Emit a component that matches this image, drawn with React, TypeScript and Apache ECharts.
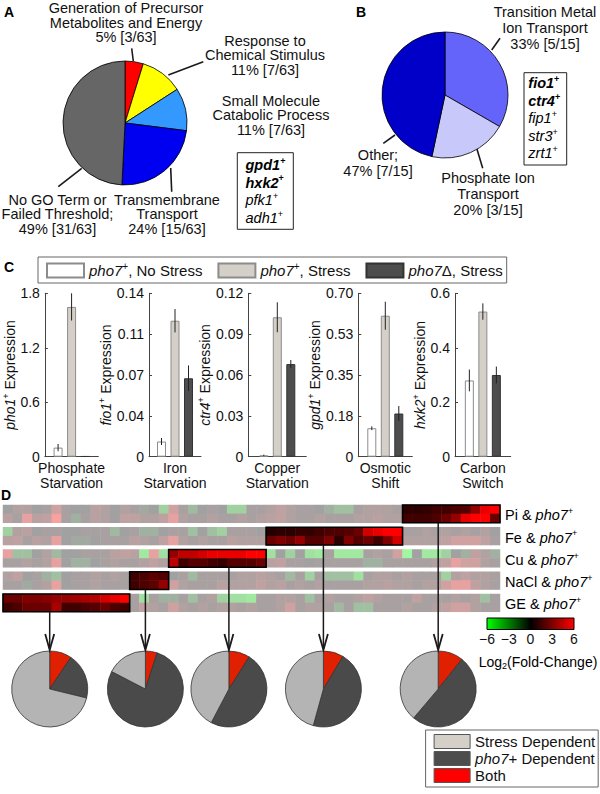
import React, { useEffect, useRef } from "react";
import * as echarts from "echarts";

const FONT = "'Liberation Sans', Arial, Helvetica, sans-serif";
const INK = "#111111";

// ---------------- Panel A : GO categories ----------------
const goTerms = [
  "Generation of Precursor\nMetabolites and Energy",
  "Response to\nChemical Stimulus",
  "Small Molecule\nCatabolic Process",
  "Transmembrane\nTransport",
  "No GO Term or\nFailed Threshold;",
];
const goCounts = [3, 7, 7, 15, 31];
const goColors = ["#ff0000", "#ffff00", "#3399ff", "#0000f0", "#666666"];
const goGenes = ["gpd1", "hxk2", "pfk1", "adh1"];
const goGenesBold = [true, true, false, false];

// ---------------- Panel B : ion transport ----------------
const ionTerms = ["Transition Metal\nIon Transport", "Phosphate Ion\nTransport", "Other;"];
const ionCounts = [5, 3, 7];
const ionColors = ["#6464fa", "#c8c8fa", "#0000c8"];
const ionGenes = ["fio1", "ctr4", "fip1", "str3", "zrt1"];
const ionGenesBold = [true, true, false, false, false];

// ---------------- Panel C : qPCR bars ----------------
const stressTypes = ["Phosphate\nStarvation", "Iron\nStarvation", "Copper\nStarvation", "Osmotic\nShift", "Carbon\nSwitch"];
const reporterGenes = ["pho1", "fio1", "ctr4", "gpd1", "hxk2"];
const barSeriesNames = ["pho7+, No Stress", "pho7+, Stress", "pho7Δ, Stress"];
const noStressMean = [0.1, 0.013, 0.001, 0.122, 0.28];
const noStressErr = [0.04, 0.003, 0.0005, 0.008, 0.04];
const stressMean = [1.65, 0.1165, 0.1024, 0.604, 0.533];
const stressErr = [0.15, 0.01, 0.011, 0.06, 0.03];
const deltaMean = [0.005, 0.0672, 0.068, 0.185, 0.3];
const deltaErr = [0.003, 0.011, 0.003, 0.032, 0.031];
const yMax = [1.8, 0.14, 0.12, 0.7, 0.6];
const yInterval = [0.6, 0.035, 0.03, 0.175, 0.2];
const yTickLabels = [
  ["0", "0.6", "1.2", "1.8"],
  ["0", "0.04", "0.07", "0.11", "0.14"],
  ["0", "0.03", "0.06", "0.09", "0.12"],
  ["0", "0.18", "0.35", "0.53", "0.70"],
  ["0", "0.2", "0.4", "0.6"],
];

// ---------------- Panel D : heatmap ----------------
const heatConditions = ["Pi", "Fe", "Cu", "NaCl", "GE"];
const heatPiTop = [0, 1, 1, 0, 0.5, 3, 0.5, 0, 0, 1.5, 1, 0, 1, 0.5, -0.5, 0, -3, 3, 0.5, -1.5, 0, 0.5, 0, -3, -3, 0.5, 0.5, 1, 2, 1, 0.5, 0.5, 0, -1, -2, -2, 0.5, 1, 1, 1, 0.5, 1, 1, 1.2, 1.5, 1.5, 1.8, 2, 3.5, 5.5, 6];
const heatPiBottom = [1.5, 0.5, 4.5, 1.5, 2, 5.5, 0.5, -1, 0.5, 1.5, 1, 0, 2, 2, 1, 1, 2, 4.5, 1, 0.5, 0.5, 1, 0.5, 0.5, 1, 0.5, 1, 1.5, 2, 1, 0.5, 0.5, 1, 0.5, 0.5, 0.5, 1, 1, 1.5, 1, 1, 1.5, 1.5, 1.5, 1.8, 2.5, 3.5, 5.5, 6, 6, 2.5];
const heatFeTop = [-3, 1, 1.5, 0, 0.5, 0.5, 0, 0, 0.5, 0.5, 0.5, -1.5, 0, 0.5, -1, -1, 0, 0.5, 0.5, -2, 0, -2, -3, 0.5, 0.5, 0.5, 0, 0.8, 1, 1, 1.2, 1.2, 1.5, 1.8, 1.8, 2, 2.5, 5, 5.5, 6, 6, 0.5, 0.5, 1, 0.5, 1, 0.5, 1, 0.5, 1, 0];
const heatFeBottom = [1.5, 2, 0.5, 1.5, 1, 4.5, 0, -0.5, -0.5, 0, 0.5, 0.5, 0.5, 1.5, 1, 0.5, 2, 4.5, 1, 0.5, 1, 0.5, 0.5, 1.5, 1, 1, 1, 2.5, 3, 2.5, 3.5, 2, 2, 3, 1, 3, 2, 2.5, 1.5, 3, 5, 1, 1, 1, 1, 2, 3, 3, 3, 2, 0.5];
const heatCuTop = [4.5, -2, -2, 0, 1, -1.5, 0, 0, 0.5, 0.5, 0.5, 1.5, 2, 1.5, -4.5, 4.5, -4, 3.5, 4.5, 4.5, 5, 5.5, 5.5, 5.5, 5.5, 6, 6, -4, 0, -3, 0, -4, -4.5, 0.5, -4.5, -4.5, -4.5, 0.5, 1, 0.5, 3, -5.5, 0, -4.5, -4.5, -3, 0, -1, 2, 1, -1];
const heatCuBottom = [0.5, 0.5, 1, 0.5, 1, 4.5, 0, -1, -1, 0, 0.5, 1, 0.5, 0.5, 1, 2, 1, 4.5, 1.5, 2, 2, 1.5, 1.2, 2, 2, 2, 2.5, 1.5, 2, 0.5, 0.5, 0, 0.5, 0.5, 0.5, 0.5, 0.5, -1, -1, 0.5, 0.5, 0.5, 0.5, 0.5, 1, 2, 4.5, 3, 3, 1, 0.5];
const heatNaClTop = [1, 2, 0, 0.5, -1, -2, 0, 0.5, 0.5, 1, 0.5, 1, 0.5, 1.5, 1.8, 2.2, 2, 0, 0.5, -1.5, 0.5, 0.5, 0.5, 0.5, 1, 1, 1.5, 1, 0.5, -1.5, 0.5, -3, 0.5, -2, -2, -2, -4, 0.5, 1, 1, 0.5, 1, 0.5, 0.5, 0.5, -3, 1, 2, 1, 1, 0.5];
const heatNaClBottom = [0.5, 0.5, -0.5, 0.5, 1, 4.5, 0, 0.5, 0.5, 1, 0.5, 0.5, 0.5, 1.5, 1.8, 2.2, 3.5, 3, 1, 0.5, 0.5, 0.5, 1.5, 1, 1, 1, 2, 1, 1.5, 0.5, 1, 0.5, 1, 0.5, 0.5, 0.5, 0.5, 1, 1, 1.5, 1, 1, 0.5, 1, 1, 3, 4.5, 4.5, 2, 1, 0.5];
const heatGETop = [2.5, 2.5, 3, 3, 3.2, 3.5, 3.5, 3.8, 4, 4.2, 5, 5.5, 6, 0.5, -4, 0.5, -1, -1, 0.5, -2, 0.5, 1, -3, -4, -4, -4.5, 0.5, 0.5, 1, 1, 0.5, -2, 0.5, 1, 0.5, 0.5, 1, 2, 1, 0.5, 0.5, 0.5, 2, 0.5, 0.5, 0.5, 1, 0.5, 1, -2, 0.5];
const heatGEBottom = [1.5, 1.8, 2.5, 2.5, 2.5, 4, 1.5, 1.5, 1.8, 2, 2.5, 1.8, 1.5, 0.5, 2, 1, 0.5, 3, 1, 0.5, 1, 0.5, 1, 1, 0.5, 1, 0.5, 0.5, 1, 3, 0.5, 1, 1, 0.5, -1.5, 0.5, -2, -2, 0.5, 0.5, 0.5, 1, 0.5, 0.5, 1, 2, 3, 3, 1, 0.5, 0.5];
const heatBoxStart = [41, 27, 17, 13, 0];
const heatBoxEnd = [50, 40, 26, 16, 12];
const colorbarTicks = [-6, -3, 0, 3, 6];

// ---------------- Panel D : overlap pies ----------------
const pieConditionOrder = ["GE", "NaCl", "Cu", "Fe", "Pi"];
const overlapNames = ["Both", "pho7+ Dependent", "Stress Dependent"];
const overlapBoth = [9.4, 5, 9, 8.6, 10.7];
const overlapPho7 = [19.4, 77.6, 48.7, 45.7, 50.5];
const overlapStress = [71.2, 17.4, 42.3, 45.7, 38.8];

// ---------------- layout / style (not data) ----------------
const barLeft = [43.3, 149, 248.3, 358.3, 455];
const barWidthPx = [55, 52, 58, 54, 55.7];
const barNameGap = [20, 34, 25, 32, 22];
const barTop = 293.3;
const barH = 163.4;
const barFill = ["#ffffff", "#d4d0c8", "#4d4d4d"];
const barBorder = ["#8c8c8c", "#8c8c8c", "#333333"];
const heatTop = [505, 527.25, 549.5, 571.75, 594];
const heatH = 17.8;
const pieX = [49.7, 145.4, 228.9, 323.4, 438.2];
const pieY = 689;
const overlapColors = ["#e02000", "#4a4a4a", "#b4b4b4"];
const overlapLegendColors = ["#ff0000", "#4d4d4d", "#d4d0c8"];

function rich(size: number) {
  const lh = size + 3;
  return {
    n: { fontSize: size, fontFamily: FONT, color: INK, lineHeight: lh },
    i: { fontSize: size, fontFamily: FONT, color: INK, fontStyle: "italic", lineHeight: lh },
    bi: { fontSize: size, fontFamily: FONT, color: INK, fontStyle: "italic", fontWeight: "bold", lineHeight: lh },
    s: { fontSize: Math.round(size * 0.64), fontFamily: FONT, color: INK, lineHeight: 8, verticalAlign: "top" },
    sb: { fontSize: Math.round(size * 0.64), fontFamily: FONT, color: INK, fontWeight: "bold", lineHeight: 8, verticalAlign: "top" },
    sub: { fontSize: Math.round(size * 0.64), fontFamily: FONT, color: INK, lineHeight: 8, verticalAlign: "bottom" },
  };
}

function richName(name: string): string {
  if (name.startsWith("pho7+,")) return `{i|pho7}{s|+}{n|${name.slice(5)}}`;
  if (name.startsWith("pho7+ ")) return `{i|pho7}{n|${name.slice(4)}}`;
  if (name.startsWith("pho7Δ")) return `{i|pho7}{n|${name.slice(4)}}`;
  return `{n|${name}}`;
}

function pct(v: number, total: number) {
  return Math.round((v / total) * 100);
}

function buildOption(): any {
  const grid: any[] = [];
  const xAxis: any[] = [];
  const yAxis: any[] = [];
  const series: any[] = [];
  const elements: any[] = [];

  // ---------- Panel A pie ----------
  const goTotal = goCounts.reduce((a, b) => a + b, 0);
  series.push({
    type: "pie",
    center: [125, 123],
    radius: 62,
    startAngle: 90,
    clockwise: true,
    silent: true,
    label: { show: false },
    labelLine: { show: false },
    itemStyle: { borderColor: "#000", borderWidth: 0.8 },
    data: goTerms.map((t, k) => ({ name: t, value: goCounts[k], itemStyle: { color: goColors[k] } })),
  });
  const goLabelPos = [[126, 22.5], [265, 55], [271, 115], [167, 214], [57.5, 214]];
  goTerms.forEach((t, k) => {
    elements.push({
      type: "text",
      x: goLabelPos[k][0],
      y: goLabelPos[k][1],
      style: {
        text: `${t}\n${pct(goCounts[k], goTotal)}% [${goCounts[k]}/${goTotal}]`,
        font: `14.5px ${FONT}`,
        fill: INK,
        lineHeight: 14.5,
        align: "center",
        verticalAlign: "middle",
        textAlign: "center",
        textVerticalAlign: "middle",
      },
    });
  });
  const goLeaders = [[131.7, 48.3, 133.3, 61], [168.3, 75, 203.3, 61.7], [170.7, 168, 171.7, 191.7], [58.3, 186.7, 81.7, 168.3]];
  goLeaders.forEach((l) =>
    elements.push({ type: "line", shape: { x1: l[0], y1: l[1], x2: l[2], y2: l[3] }, style: { stroke: "#1a1a1a", lineWidth: 1.6 } })
  );
  elements.push({ type: "rect", shape: { x: 237.3, y: 152.7, width: 56, height: 76.6 }, style: { fill: "#fff", stroke: "#222", lineWidth: 1 } });
  goGenes.forEach((g, k) => {
    elements.push({
      type: "text",
      x: 245.5,
      y: 165 + k * 17.7,
      style: {
        text: goGenesBold[k] ? `{bi|${g}}{sb|+}` : `{i|${g}}{s|+}`,
        rich: rich(14.5),
        align: "left",
        verticalAlign: "middle",
        textAlign: "left",
        textVerticalAlign: "middle",
      },
    });
  });

  // ---------- Panel B pie ----------
  const ionTotal = ionCounts.reduce((a, b) => a + b, 0);
  series.push({
    type: "pie",
    center: [445, 95],
    radius: 63,
    startAngle: 90,
    clockwise: true,
    silent: true,
    label: { show: false },
    labelLine: { show: false },
    itemStyle: { borderColor: "#000", borderWidth: 0.8 },
    data: ionTerms.map((t, k) => ({ name: t, value: ionCounts[k], itemStyle: { color: ionColors[k] } })),
  });
  const ionLabelPos = [[545, 27.5], [488, 193.5], [378, 163.3]];
  ionTerms.forEach((t, k) => {
    elements.push({
      type: "text",
      x: ionLabelPos[k][0],
      y: ionLabelPos[k][1],
      style: {
        text: `${t}\n${pct(ionCounts[k], ionTotal)}% [${ionCounts[k]}/${ionTotal}]`,
        font: `14.5px ${FONT}`,
        fill: INK,
        lineHeight: 16,
        align: "center",
        verticalAlign: "middle",
        textAlign: "center",
        textVerticalAlign: "middle",
      },
    });
  });
  const ionLeaders = [[491.7, 50, 500, 38.3], [476.7, 148.3, 482.7, 168.3], [383.3, 143.3, 395, 135]];
  ionLeaders.forEach((l) =>
    elements.push({ type: "line", shape: { x1: l[0], y1: l[1], x2: l[2], y2: l[3] }, style: { stroke: "#1a1a1a", lineWidth: 1.6 } })
  );
  elements.push({ type: "rect", shape: { x: 524, y: 72.7, width: 42.7, height: 92.3 }, style: { fill: "#fff", stroke: "#222", lineWidth: 1 } });
  ionGenes.forEach((g, k) => {
    elements.push({
      type: "text",
      x: 528.3,
      y: 83.3 + k * 17.5,
      style: {
        text: ionGenesBold[k] ? `{bi|${g}}{sb|+}` : `{i|${g}}{s|+}`,
        rich: rich(14.5),
        align: "left",
        verticalAlign: "middle",
        textAlign: "left",
        textVerticalAlign: "middle",
      },
    });
  });

  // ---------- Panel C bars ----------
  const means = [noStressMean, stressMean, deltaMean];
  const errs = [noStressErr, stressErr, deltaErr];
  const pitch = 13.5;
  stressTypes.forEach((cat, i) => {
    grid.push({ left: barLeft[i], top: barTop, width: barWidthPx[i], height: barH });
    xAxis.push({
      type: "category",
      gridIndex: i,
      data: [cat],
      axisTick: { show: false },
      axisLine: { lineStyle: { color: "#444", width: 1 } },
      axisLabel: { interval: 0, fontSize: 14, lineHeight: 15, margin: 4, color: INK, fontFamily: FONT },
    });
    yAxis.push({
      type: "value",
      gridIndex: i,
      min: 0,
      max: yMax[i],
      interval: yInterval[i],
      axisLine: { show: true, lineStyle: { color: "#444", width: 1 } },
      axisTick: { show: true, inside: true, length: 3, lineStyle: { color: "#444" } },
      splitLine: { show: false },
      axisLabel: {
        fontSize: 14,
        color: INK,
        fontFamily: FONT,
        margin: 5,
        formatter: (v: number) => {
          const idx = Math.round(v / yInterval[i]);
          return yTickLabels[i][idx] ?? "";
        },
      },
      name: `{i|${reporterGenes[i]}}{s|+}{n| Expression}`,
      nameLocation: "middle",
      nameRotate: 90,
      nameGap: barNameGap[i],
      nameTextStyle: { rich: rich(14), fontSize: 14, fontFamily: FONT },
    });
    barSeriesNames.forEach((nm, s) => {
      series.push({
        type: "bar",
        name: nm,
        xAxisIndex: i,
        yAxisIndex: i,
        barWidth: 9,
        barGap: "50%",
        silent: true,
        itemStyle: { color: barFill[s], borderColor: barBorder[s], borderWidth: 1 },
        data: [means[s][i]],
      });
    });
    series.push({
      type: "custom",
      xAxisIndex: i,
      yAxisIndex: i,
      z: 5,
      silent: true,
      data: [0, 1, 2].map((s) => [0, means[s][i] - errs[s][i], means[s][i] + errs[s][i]]),
      renderItem: (params: any, api: any) => {
        const off = (params.dataIndex - 1) * pitch;
        const a = api.coord([api.value(0), api.value(1)]);
        const b = api.coord([api.value(0), api.value(2)]);
        return {
          type: "line",
          shape: { x1: a[0] + off, y1: a[1], x2: a[0] + off, y2: b[1] },
          style: { stroke: "#222", lineWidth: 1 },
        };
      },
    });
  });

  // ---------- Panel D heatmap ----------
  const heatRows = [
    [heatPiTop, heatPiBottom],
    [heatFeTop, heatFeBottom],
    [heatCuTop, heatCuBottom],
    [heatNaClTop, heatNaClBottom],
    [heatGETop, heatGEBottom],
  ];
  const nCols = heatPiTop.length;
  const colIds = Array.from({ length: nCols }, (_, c) => String(c));
  const hiIdx: number[] = [];
  const bgIdx: number[] = [];
  heatConditions.forEach((cond, r) => {
    const gi = 5 + r;
    grid.push({ left: 3, top: heatTop[r], width: 497, height: heatH });
    xAxis.push({ type: "category", gridIndex: gi, data: colIds, show: false });
    yAxis.push({ type: "category", gridIndex: gi, data: ["0", "1"], inverse: true, show: false });
    const hi: number[][] = [];
    const bg: number[][] = [];
    heatRows[r].forEach((arr, sub) =>
      arr.forEach((v, c) => {
        const inBox = c >= heatBoxStart[r] && c <= heatBoxEnd[r];
        (inBox ? hi : bg).push([c, sub, v]);
      })
    );
    series.push({ type: "heatmap", xAxisIndex: gi, yAxisIndex: gi, data: bg, silent: true, progressive: 0 });
    bgIdx.push(series.length - 1);
    series.push({ type: "heatmap", xAxisIndex: gi, yAxisIndex: gi, data: hi, silent: true, progressive: 0 });
    hiIdx.push(series.length - 1);
    series.push({
      type: "custom",
      xAxisIndex: gi,
      yAxisIndex: gi,
      z: 6,
      silent: true,
      data: [[heatBoxStart[r], 0, heatBoxEnd[r]]],
      renderItem: (params: any, api: any) => {
        const p0 = api.coord([api.value(0), 0]);
        const p1 = api.coord([api.value(2), 1]);
        const sz = api.size([1, 1]);
        return {
          type: "rect",
          shape: { x: p0[0] - sz[0] / 2, y: p0[1] - sz[1] / 2, width: p1[0] - p0[0] + sz[0], height: p1[1] - p0[1] + sz[1] },
          style: { fill: "none", stroke: "#000", lineWidth: 1.6 },
        };
      },
    });
    elements.push({
      type: "text",
      x: 505,
      y: heatTop[r] + heatH / 2 + 1.5,
      style: {
        text: `{n|${cond} & }{i|pho7}{s|+}`,
        rich: rich(14.5),
        align: "left",
        verticalAlign: "middle",
        textAlign: "left",
        textVerticalAlign: "middle",
      },
    });
  });

  // colorbar
  elements.push({
    type: "rect",
    shape: { x: 487, y: 618, width: 87, height: 11.5 },
    style: {
      fill: new echarts.graphic.LinearGradient(0, 0, 1, 0, [
        { offset: 0, color: "#00ff00" },
        { offset: 0.5, color: "#000000" },
        { offset: 1, color: "#ff0000" },
      ]),
      stroke: "#000",
      lineWidth: 1,
    },
  });
  colorbarTicks.forEach((t) => {
    elements.push({
      type: "text",
      x: 487 + ((t + 6) / 12) * 87,
      y: 639,
      style: {
        text: (t < 0 ? "−" : "") + Math.abs(t),
        font: `14px ${FONT}`,
        fill: INK,
        align: "center",
        verticalAlign: "middle",
        textAlign: "center",
        textVerticalAlign: "middle",
      },
    });
  });
  elements.push({
    type: "text",
    x: 538,
    y: 662,
    style: {
      text: "{n|Log}{sub|2}{n|(Fold-Change)}",
      rich: rich(14),
      align: "center",
      verticalAlign: "middle",
      textAlign: "center",
      textVerticalAlign: "middle",
    },
  });

  // overlap pies
  pieX.forEach((x, k) => {
    const vals = [overlapBoth[k], overlapPho7[k], overlapStress[k]];
    series.push({
      type: "pie",
      center: [x, pieY],
      radius: 38,
      startAngle: 90,
      clockwise: true,
      silent: true,
      label: { show: false },
      labelLine: { show: false },
      itemStyle: { borderColor: "#333", borderWidth: 0.8 },
      data: overlapNames.map((nm, j) => ({ name: nm, value: vals[j], itemStyle: { color: overlapColors[j] } })),
    });
    const r = heatConditions.indexOf(pieConditionOrder[k]);
    const y0 = heatTop[r] + heatH;
    elements.push({ type: "line", z: 100, shape: { x1: x, y1: y0, x2: x, y2: 649 }, style: { stroke: "#1a1a1a", lineWidth: 1.5 } });
    elements.push({
      type: "polyline",
      z: 100,
      shape: { points: [[x - 4.5, 634], [x, 650], [x + 4.5, 634]] },
      style: { stroke: "#1a1a1a", lineWidth: 1.8, fill: null },
    });
  });

  // panel letters
  const letters: [string, number, number][] = [["A", 9, 12], ["B", 361, 12], ["C", 9, 267], ["D", 6, 495]];
  letters.forEach(([t, x, y]) =>
    elements.push({
      type: "text",
      x,
      y,
      style: {
        text: t,
        font: `bold 14px ${FONT}`,
        fill: "#000",
        align: "center",
        verticalAlign: "middle",
        textAlign: "center",
        textVerticalAlign: "middle",
      },
    })
  );

  return {
    animation: false,
    backgroundColor: "#ffffff",
    textStyle: { fontFamily: FONT },
    grid,
    xAxis,
    yAxis,
    series,
    visualMap: [
      { type: "continuous", show: false, min: -6, max: 6, dimension: 2, seriesIndex: hiIdx, inRange: { color: ["#00ff00", "#000000", "#ff0000"] } },
      { type: "continuous", show: false, min: -6, max: 6, dimension: 2, seriesIndex: bgIdx, inRange: { color: ["#a1ffa1", "#a1a1a1", "#ffa1a1"] } },
    ],
    legend: [
      {
        data: barSeriesNames,
        left: 38,
        top: 257,
        orient: "horizontal",
        icon: "rect",
        itemWidth: 37,
        itemHeight: 14,
        itemGap: 15,
        padding: [4.5, 4, 4.5, 8],
        borderColor: "#666",
        borderWidth: 1,
        selectedMode: false,
        formatter: (n: string) => richName(n),
        textStyle: { fontSize: 15, fontFamily: FONT, color: INK, rich: rich(15) },
      },
      {
        data: overlapNames
          .map((nm, j) => ({ name: nm, itemStyle: { color: overlapLegendColors[j], borderColor: "#555", borderWidth: 1 } }))
          .reverse(),
        left: 425.6,
        top: 730,
        orient: "vertical",
        icon: "rect",
        itemWidth: 36,
        itemHeight: 14,
        itemGap: 2,
        padding: [4, 3, 4, 8],
        borderColor: "#666",
        borderWidth: 1,
        selectedMode: false,
        formatter: (n: string) => richName(n),
        textStyle: { fontSize: 15, fontFamily: FONT, color: INK, rich: rich(15) },
      },
    ],
    graphic: { elements },
  };
}

export default function App() {
  const ref = useRef<HTMLDivElement>(null);
  useEffect(() => {
    if (!ref.current) return;
    const chart = echarts.init(ref.current, null, { renderer: "svg", width: 600, height: 794 });
    chart.setOption(buildOption());
    return () => chart.dispose();
  }, []);
  return (
    <div
      ref={ref}
      style={{ position: "fixed", left: 0, top: 0, width: 600, height: 794, background: "#fff" }}
    />
  );
}
